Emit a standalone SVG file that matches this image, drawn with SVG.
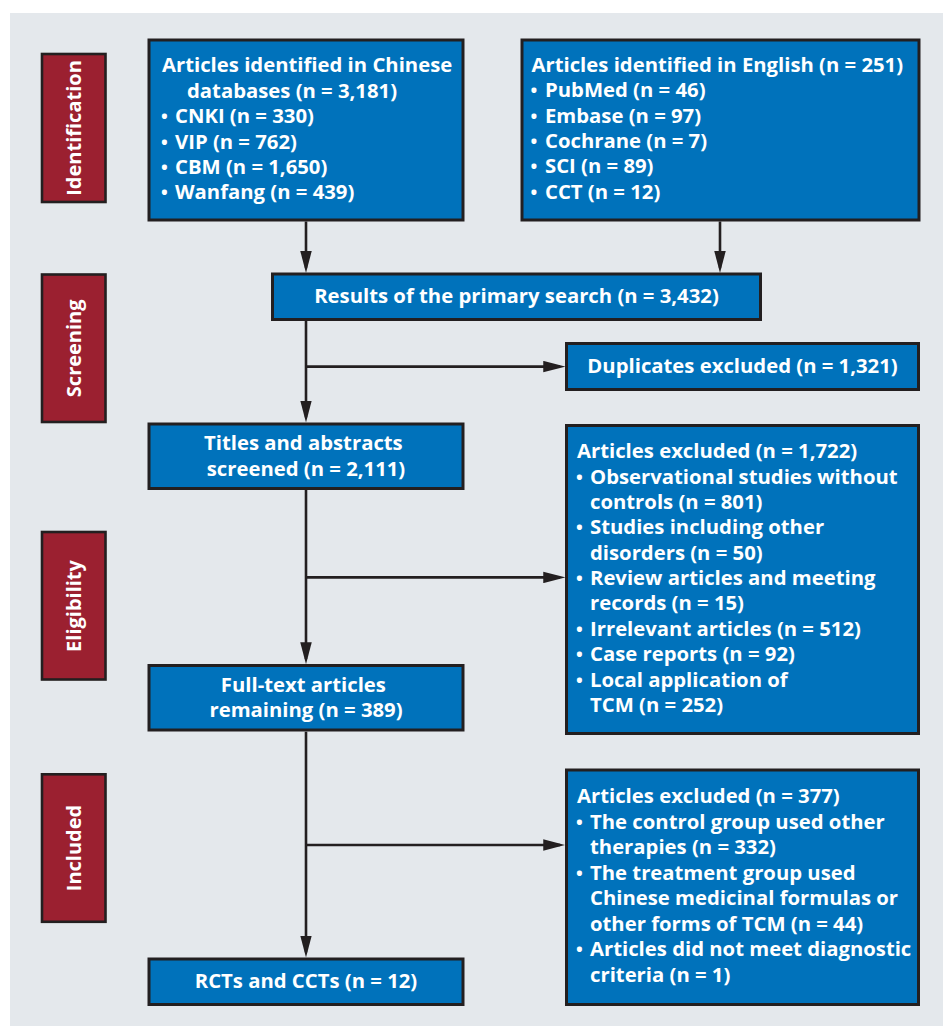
<svg xmlns="http://www.w3.org/2000/svg" width="943" height="1026" viewBox="0 0 943 1026">
  <style>
    .box { fill: #0072bb; stroke: #231f20; stroke-width: 3; }
    .side { fill: #9b2030; stroke: #231f20; stroke-width: 2.6; }
    .t { font-family: "Open Sans", Lato, "Liberation Sans", sans-serif; font-weight: bold; font-size: 20.3px; fill: #ffffff; }
    .b { font-size: 18px; }
    .c { text-anchor: middle; }
    .st { font-family: "Open Sans", Lato, "Liberation Sans", sans-serif; font-weight: bold; font-size: 20px; fill: #ffffff; text-anchor: middle; }
    .ln { stroke: #231f20; stroke-width: 2.6; fill: none; }
  </style>
  <defs>
    <marker id="arr" markerUnits="userSpaceOnUse" markerWidth="22" markerHeight="12" viewBox="0 0 21 11" refX="16" refY="5.5" orient="auto">
      <path d="M0,0 L21,5.5 L0,11 z" fill="#231f20"/>
    </marker>
  </defs>
  <rect x="10" y="13" width="933" height="1013" fill="#e4e8ec"/>

  <g id="label-identification">
    <rect class="side" x="42" y="54" width="63.5" height="148"/>
    <text class="st" transform="translate(80.5,128) rotate(-90)">Identification</text>
  </g>
  <g id="label-screening">
    <rect class="side" x="42" y="274.5" width="63.5" height="147.5"/>
    <text class="st" transform="translate(80.5,348.3) rotate(-90)">Screening</text>
  </g>
  <g id="label-eligibility">
    <rect class="side" x="42" y="532" width="63.5" height="147.5"/>
    <text class="st" transform="translate(80.5,606) rotate(-90)">Eligibility</text>
  </g>
  <g id="label-included">
    <rect class="side" x="42" y="774.3" width="63.5" height="147.5"/>
    <text class="st" transform="translate(80.5,848) rotate(-90)">Included</text>
  </g>

  <g id="connectors">
    <path class="ln" d="M306,221.5 V267.7" marker-end="url(#arr)"/>
    <path class="ln" d="M720,221.5 V267.7" marker-end="url(#arr)"/>
    <path class="ln" d="M306,321 V417.3" marker-end="url(#arr)"/>
    <path class="ln" d="M306,366.6 H560" marker-end="url(#arr)"/>
    <path class="ln" d="M306,490 V659" marker-end="url(#arr)"/>
    <path class="ln" d="M306,577.4 H560" marker-end="url(#arr)"/>
    <path class="ln" d="M306,731.7 V952.3" marker-end="url(#arr)"/>
    <path class="ln" d="M306,845 H560" marker-end="url(#arr)"/>
  </g>

  <g id="chinese">
    <rect class="box" x="149" y="40" width="314" height="180"/>
    <text class="t">
      <tspan x="162" y="72">Articles identified in Chinese</tspan>
      <tspan x="187" y="97.5">databases (n = 3,181)</tspan>
      <tspan class="b" x="161" y="123">•</tspan><tspan x="175" y="123">CNKI (n = 330)</tspan>
      <tspan class="b" x="161" y="148.5">•</tspan><tspan x="175" y="148.5">VIP (n = 762)</tspan>
      <tspan class="b" x="161" y="174">•</tspan><tspan x="175" y="174">CBM (n = 1,650)</tspan>
      <tspan class="b" x="161" y="199">•</tspan><tspan x="175" y="199">Wanfang (n = 439)</tspan>
    </text>
  </g>

  <g id="english">
    <rect class="box" x="522" y="40" width="397" height="180"/>
    <text class="t">
      <tspan x="531.5" y="72">Articles identified in English (n = 251)</tspan>
      <tspan class="b" x="530.5" y="97">•</tspan><tspan x="545" y="97">PubMed (n = 46)</tspan>
      <tspan class="b" x="530.5" y="122.5">•</tspan><tspan x="545" y="122.5">Embase (n = 97)</tspan>
      <tspan class="b" x="530.5" y="148">•</tspan><tspan x="545" y="148">Cochrane (n = 7)</tspan>
      <tspan class="b" x="530.5" y="173">•</tspan><tspan x="545" y="173">SCI (n = 89)</tspan>
      <tspan class="b" x="530.5" y="198.5">•</tspan><tspan x="545" y="198.5">CCT (n = 12)</tspan>
    </text>
  </g>

  <g id="primary">
    <rect class="box" x="272.5" y="274" width="488" height="45.5"/>
    <text class="t c" x="516.5" y="303.3">Results of the primary search (n = 3,432)</text>
  </g>

  <g id="duplicates">
    <rect class="box" x="566.5" y="343.5" width="352" height="46"/>
    <text class="t c" x="742.5" y="373.3">Duplicates excluded (n = 1,321)</text>
  </g>

  <g id="titles">
    <rect class="box" x="149" y="424" width="314" height="64.5"/>
    <text class="t c">
      <tspan x="306" y="450">Titles and abstracts</tspan>
      <tspan x="306" y="476">screened (n = 2,111)</tspan>
    </text>
  </g>

  <g id="excluded1">
    <rect class="box" x="566.5" y="425.5" width="352" height="308"/>
    <text class="t">
      <tspan x="577" y="458.3">Articles excluded (n = 1,722)</tspan>
      <tspan class="b" x="576" y="483.5">•</tspan><tspan x="590" y="483.5">Observational studies without</tspan>
      <tspan x="590" y="509">controls (n = 801)</tspan>
      <tspan class="b" x="576" y="534.3">•</tspan><tspan x="590" y="534.3">Studies including other</tspan>
      <tspan x="590" y="559.5">disorders (n = 50)</tspan>
      <tspan class="b" x="576" y="585">•</tspan><tspan x="590" y="585">Review articles and meeting</tspan>
      <tspan x="590" y="610.2">records (n = 15)</tspan>
      <tspan class="b" x="576" y="635.5">•</tspan><tspan x="590" y="635.5">Irrelevant articles (n = 512)</tspan>
      <tspan class="b" x="576" y="661">•</tspan><tspan x="590" y="661">Case reports (n = 92)</tspan>
      <tspan class="b" x="576" y="686.5">•</tspan><tspan x="590" y="686.5">Local application of</tspan>
      <tspan x="590" y="711.7">TCM (n = 252)</tspan>
    </text>
  </g>

  <g id="fulltext">
    <rect class="box" x="149" y="665.5" width="314" height="64.5"/>
    <text class="t c">
      <tspan x="306" y="691.7">Full-text articles</tspan>
      <tspan x="306" y="716.7">remaining (n = 389)</tspan>
    </text>
  </g>

  <g id="excluded2">
    <rect class="box" x="566.5" y="770" width="352" height="234.5"/>
    <text class="t">
      <tspan x="577" y="803.3">Articles excluded (n = 377)</tspan>
      <tspan class="b" x="576" y="829">•</tspan><tspan x="590" y="829">The control group used other</tspan>
      <tspan x="590" y="854.3">therapies (n = 332)</tspan>
      <tspan class="b" x="576" y="880">•</tspan><tspan x="590" y="880">The treatment group used</tspan>
      <tspan x="590" y="905.3">Chinese medicinal formulas or</tspan>
      <tspan x="590" y="930.7">other forms of TCM (n = 44)</tspan>
      <tspan class="b" x="576" y="956.3">•</tspan><tspan x="590" y="956.3">Articles did not meet diagnostic</tspan>
      <tspan x="590" y="981.7">criteria (n = 1)</tspan>
    </text>
  </g>

  <g id="rcts">
    <rect class="box" x="149" y="959" width="314" height="45.5"/>
    <text class="t c" x="306" y="987.7">RCTs and CCTs (n = 12)</text>
  </g>
</svg>
